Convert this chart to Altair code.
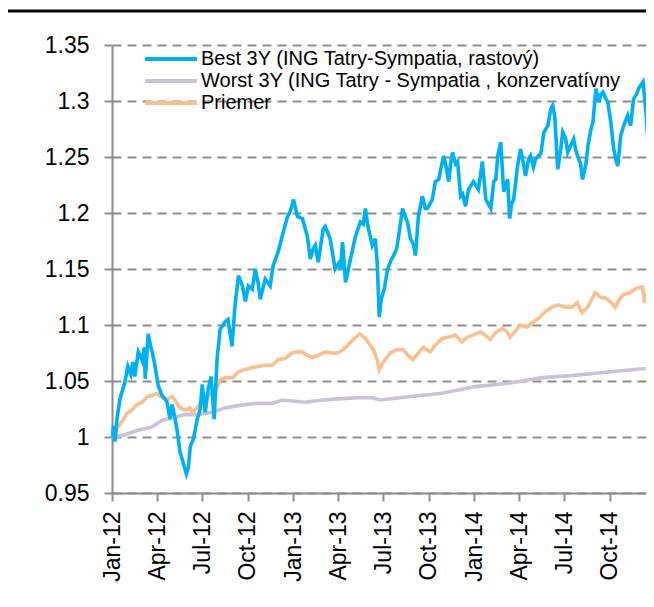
import altair as alt
import pandas as pd

# ---- data ----
series_names = [
    "Best 3Y (ING Tatry-Sympatia, rastový)",
    "Worst 3Y (ING Tatry - Sympatia , konzervatívny",
    "Priemer",
]
series_colors = ["#00B0F0", "#CCC1DA", "#F9BF8D"]

best_dates = [
    "2012-01-02", "2012-01-04", "2012-01-07", "2012-01-11", "2012-01-17", "2012-01-27",
    "2012-02-02", "2012-02-08", "2012-02-12", "2012-02-16", "2012-02-23", "2012-03-02",
    "2012-03-06", "2012-03-08", "2012-03-14", "2012-03-18", "2012-03-22", "2012-03-28",
    "2012-04-03", "2012-04-11", "2012-04-17", "2012-04-21", "2012-04-27", "2012-05-01",
    "2012-05-05", "2012-05-11", "2012-05-17", "2012-05-23", "2012-05-30", "2012-06-03",
    "2012-06-07", "2012-06-13", "2012-06-21", "2012-06-27", "2012-07-01", "2012-07-07",
    "2012-07-13", "2012-07-19", "2012-07-25", "2012-07-31", "2012-08-06", "2012-08-16",
    "2012-08-22", "2012-08-30", "2012-09-05", "2012-09-12", "2012-09-20", "2012-09-26",
    "2012-10-02", "2012-10-10", "2012-10-16", "2012-10-22", "2012-10-26", "2012-11-05",
    "2012-11-15", "2012-11-21", "2012-12-01", "2012-12-09", "2012-12-20", "2012-12-26",
    "2013-01-01", "2013-01-09", "2013-01-19", "2013-01-29", "2013-02-04", "2013-02-10",
    "2013-02-14", "2013-02-20", "2013-03-02", "2013-03-06", "2013-03-16", "2013-03-26",
    "2013-04-02", "2013-04-06", "2013-04-10", "2013-04-16", "2013-04-26", "2013-05-06",
    "2013-05-16", "2013-05-22", "2013-05-26", "2013-06-01", "2013-06-09", "2013-06-15",
    "2013-06-19", "2013-06-23", "2013-06-27", "2013-07-03", "2013-07-10", "2013-07-16",
    "2013-07-22", "2013-07-28", "2013-08-01", "2013-08-09", "2013-08-15", "2013-08-19",
    "2013-08-25", "2013-08-31", "2013-09-04", "2013-09-10", "2013-09-18", "2013-09-24",
    "2013-09-28", "2013-10-08", "2013-10-14", "2013-10-21", "2013-10-25", "2013-10-31",
    "2013-11-06", "2013-11-10", "2013-11-14", "2013-11-18", "2013-11-24", "2013-11-28",
    "2013-12-04", "2013-12-08", "2013-12-14", "2013-12-20", "2013-12-30", "2014-01-05",
    "2014-01-09", "2014-01-17", "2014-01-24", "2014-02-03", "2014-02-09", "2014-02-13",
    "2014-02-17", "2014-02-23", "2014-03-01", "2014-03-09", "2014-03-13", "2014-03-17",
    "2014-03-21", "2014-03-29", "2014-04-04", "2014-04-10", "2014-04-14", "2014-04-20",
    "2014-04-24", "2014-04-30", "2014-05-04", "2014-05-10", "2014-05-15", "2014-05-21",
    "2014-05-29", "2014-06-04", "2014-06-08", "2014-06-12", "2014-06-18", "2014-06-24",
    "2014-06-28", "2014-07-04", "2014-07-08", "2014-07-14", "2014-07-20", "2014-07-24",
    "2014-07-28", "2014-08-03", "2014-08-07", "2014-08-14", "2014-08-18", "2014-08-24",
    "2014-08-28", "2014-09-03", "2014-09-09", "2014-09-13", "2014-09-17", "2014-09-23",
    "2014-09-27", "2014-10-03", "2014-10-09", "2014-10-13", "2014-10-17", "2014-10-23",
    "2014-10-29", "2014-11-06", "2014-11-12", "2014-11-18", "2014-11-24", "2014-11-28",
    "2014-12-07", "2014-12-13", "2014-12-17", "2014-12-23", "2014-12-29",
]
best_values = [
    1.000, 1.010, 0.996, 1.016, 1.034, 1.049,
    1.063, 1.056, 1.067, 1.054, 1.076, 1.068,
    1.080, 1.052, 1.092, 1.083, 1.076, 1.063,
    1.046, 1.037, 1.034, 1.031, 1.016, 1.029,
    1.021, 1.007, 0.987, 0.978, 0.967, 0.973,
    0.992, 0.998, 1.016, 1.025, 1.047, 1.022,
    1.043, 1.054, 1.016, 1.070, 1.096, 1.103,
    1.105, 1.081, 1.117, 1.144, 1.135, 1.121,
    1.135, 1.132, 1.150, 1.137, 1.123, 1.141,
    1.135, 1.153, 1.165, 1.179, 1.197, 1.202,
    1.212, 1.197, 1.195, 1.179, 1.159, 1.168,
    1.171, 1.156, 1.186, 1.188, 1.177, 1.150,
    1.155, 1.150, 1.174, 1.138, 1.159, 1.179,
    1.192, 1.190, 1.204, 1.186, 1.171, 1.177,
    1.155, 1.107, 1.123, 1.132, 1.150, 1.157,
    1.162, 1.168, 1.179, 1.204, 1.196, 1.192,
    1.177, 1.172, 1.162, 1.197, 1.215, 1.204,
    1.204, 1.212, 1.228, 1.230, 1.239, 1.251,
    1.239, 1.228, 1.244, 1.254, 1.244, 1.246,
    1.215, 1.217, 1.206, 1.221, 1.228, 1.224,
    1.221, 1.246, 1.212, 1.204, 1.228, 1.230,
    1.251, 1.263, 1.219, 1.230, 1.195, 1.208,
    1.212, 1.242, 1.257, 1.244, 1.233, 1.248,
    1.251, 1.241, 1.248, 1.251, 1.253, 1.272,
    1.278, 1.293, 1.296, 1.286, 1.239, 1.257,
    1.272, 1.266, 1.254, 1.260, 1.266, 1.257,
    1.251, 1.244, 1.230, 1.244, 1.260, 1.275,
    1.281, 1.311, 1.299, 1.306, 1.308, 1.302,
    1.299, 1.281, 1.257, 1.248, 1.242, 1.269,
    1.278, 1.287, 1.278, 1.302, 1.306, 1.311,
    1.317, 1.290, 1.263, 1.290, 1.287,
]

worst_dates = [
    "2012-01-02", "2012-01-27", "2012-02-22", "2012-03-22", "2012-04-11", "2012-05-01",
    "2012-05-27", "2012-06-23", "2012-07-21", "2012-08-16", "2012-09-11", "2012-10-16",
    "2012-11-19", "2012-12-09", "2013-01-24", "2013-02-28", "2013-04-01", "2013-05-11",
    "2013-06-09", "2013-06-25", "2013-08-20", "2013-10-28", "2014-01-03", "2014-03-10",
    "2014-05-18", "2014-07-21", "2014-09-28", "2014-12-06", "2014-12-28",
]
worst_values = [
    1.000, 1.002, 1.006, 1.009, 1.015, 1.017,
    1.020, 1.020, 1.022, 1.026, 1.028, 1.030,
    1.030, 1.033, 1.031, 1.033, 1.034, 1.035,
    1.035, 1.033, 1.036, 1.039, 1.045, 1.048,
    1.053, 1.055, 1.058, 1.061, 1.061,
]

avg_dates = [
    "2012-01-02", "2012-01-13", "2012-01-23", "2012-01-31", "2012-02-10", "2012-02-20",
    "2012-03-02", "2012-03-12", "2012-03-22", "2012-04-01", "2012-04-11", "2012-04-21",
    "2012-05-01", "2012-05-07", "2012-05-17", "2012-05-27", "2012-06-06", "2012-06-12",
    "2012-06-23", "2012-07-03", "2012-07-13", "2012-07-21", "2012-07-31", "2012-08-06",
    "2012-08-16", "2012-08-26", "2012-09-01", "2012-09-11", "2012-09-25", "2012-10-10",
    "2012-10-22", "2012-11-05", "2012-11-19", "2012-12-01", "2012-12-15", "2012-12-29",
    "2013-01-08", "2013-01-18", "2013-01-29", "2013-02-08", "2013-02-20", "2013-03-06",
    "2013-03-20", "2013-04-01", "2013-04-11", "2013-04-21", "2013-05-01", "2013-05-15",
    "2013-05-26", "2013-06-05", "2013-06-11", "2013-06-19", "2013-06-23", "2013-07-01",
    "2013-07-05", "2013-07-15", "2013-07-29", "2013-08-10", "2013-08-20", "2013-08-30",
    "2013-09-10", "2013-09-20", "2013-10-04", "2013-10-14", "2013-10-28", "2013-11-09",
    "2013-11-23", "2013-12-07", "2013-12-17", "2013-12-29", "2014-01-13", "2014-01-23",
    "2014-02-02", "2014-02-12", "2014-02-26", "2014-03-08", "2014-03-14", "2014-03-24",
    "2014-04-03", "2014-04-17", "2014-04-28", "2014-05-10", "2014-05-24", "2014-06-07",
    "2014-06-19", "2014-07-03", "2014-07-17", "2014-07-27", "2014-08-06", "2014-08-17",
    "2014-08-27", "2014-09-02", "2014-09-12", "2014-09-22", "2014-10-02", "2014-10-12",
    "2014-10-18", "2014-10-28", "2014-11-11", "2014-11-25", "2014-12-06", "2014-12-10",
    "2014-12-18", "2014-12-28",
]
avg_values = [
    1.000, 1.009, 1.015, 1.021, 1.024, 1.029,
    1.031, 1.036, 1.037, 1.039, 1.035, 1.033,
    1.036, 1.033, 1.026, 1.024, 1.026, 1.022,
    1.027, 1.035, 1.037, 1.039, 1.044, 1.051,
    1.053, 1.053, 1.053, 1.058, 1.060, 1.062,
    1.063, 1.064, 1.064, 1.069, 1.070, 1.075,
    1.076, 1.076, 1.073, 1.071, 1.073, 1.076,
    1.075, 1.075, 1.078, 1.082, 1.087, 1.092,
    1.088, 1.082, 1.078, 1.069, 1.060, 1.067,
    1.069, 1.075, 1.078, 1.078, 1.073, 1.069,
    1.075, 1.080, 1.076, 1.082, 1.088, 1.089,
    1.091, 1.085, 1.089, 1.091, 1.094, 1.091,
    1.087, 1.093, 1.097, 1.094, 1.089, 1.094,
    1.100, 1.098, 1.102, 1.106, 1.112, 1.116,
    1.118, 1.116, 1.116, 1.120, 1.111, 1.116,
    1.124, 1.129, 1.125, 1.124, 1.121, 1.116,
    1.121, 1.127, 1.129, 1.133, 1.134, 1.120,
    1.131, 1.133,
]

y_ticks = [0.95, 1.0, 1.05, 1.1, 1.15, 1.2, 1.25, 1.3, 1.35]
x_ticks = [
    "2012-01-01", "2012-04-01", "2012-07-01", "2012-10-01",
    "2013-01-01", "2013-04-01", "2013-07-01", "2013-10-01",
    "2014-01-01", "2014-04-01", "2014-07-01", "2014-10-01",
]
# visible part of the time axis (the reference is cut at the window edge)
x_domain = ["2012-01-01", "2014-12-13"]

# ---- build table (worst & average first so Best is drawn on top) ----
frames = [
    pd.DataFrame({"date": worst_dates, "value": worst_values, "series": series_names[1]}),
    pd.DataFrame({"date": avg_dates, "value": avg_values, "series": series_names[2]}),
    pd.DataFrame({"date": best_dates, "value": best_values, "series": series_names[0]}),
]
df = pd.concat(frames, ignore_index=True)


def dt(s):
    return alt.DateTime(year=int(s[:4]), month=int(s[5:7]), date=int(s[8:10]), utc=True)


FONT = "Liberation Sans"
GRAY = "#8c8c8c"

lines = alt.Chart(df).mark_line(strokeWidth=3.6).encode(
    x=alt.X(
        "date:T",
        scale=alt.Scale(type="utc", domain=[dt(s) for s in x_domain]),
        axis=alt.Axis(
            values=[dt(s) for s in x_ticks],
            format="%b-%y",
            labelAngle=270,
            title=None,
            grid=False,
            tickSize=8,
            tickWidth=2,
            tickColor=GRAY,
            domainColor=GRAY,
            domainWidth=2,
            labelPadding=10,
            labelFontSize=23,
            labelFont=FONT,
            labelColor="black",
            labelOverlap=False,
        ),
    ),
    y=alt.Y(
        "value:Q",
        scale=alt.Scale(domain=[0.95, 1.35], nice=False, zero=False),
        axis=alt.Axis(
            values=y_ticks,
            format="~g",
            title=None,
            grid=True,
            gridDash=[9, 6],
            gridColor=GRAY,
            gridWidth=2,
            tickSize=8,
            tickWidth=2,
            tickColor=GRAY,
            domainColor=GRAY,
            domainWidth=2,
            labelPadding=15,
            labelFontSize=23,
            labelFont=FONT,
            labelColor="black",
        ),
    ),
    color=alt.Color(
        "series:N",
        scale=alt.Scale(domain=series_names, range=series_colors),
        legend=alt.Legend(
            title=None,
            orient="none",
            legendX=49,
            legendY=4,
            padding=0,
            symbolType="M-5.2,0H5.2",
            symbolSize=100,
            symbolStrokeWidth=4,
            labelOffset=20,
            labelFontSize=20,
            labelFont=FONT,
            labelColor="black",
            labelLimit=700,
            rowPadding=2,
        ),
    ),
)

top_rule = alt.Chart(pd.DataFrame({"k": [0]})).mark_rule(color="black", strokeWidth=3).encode(
    x=alt.value(-110), x2=alt.value(560), y=alt.value(-34)
)

chart = alt.layer(lines, top_rule).properties(
    width=534,
    height=448,
    padding={"left": 104, "top": 37, "right": 0, "bottom": 100},
    autosize="none",
).configure_view(strokeWidth=0)

chart.save("out.html", embed_options={"renderer": "svg", "actions": False})
